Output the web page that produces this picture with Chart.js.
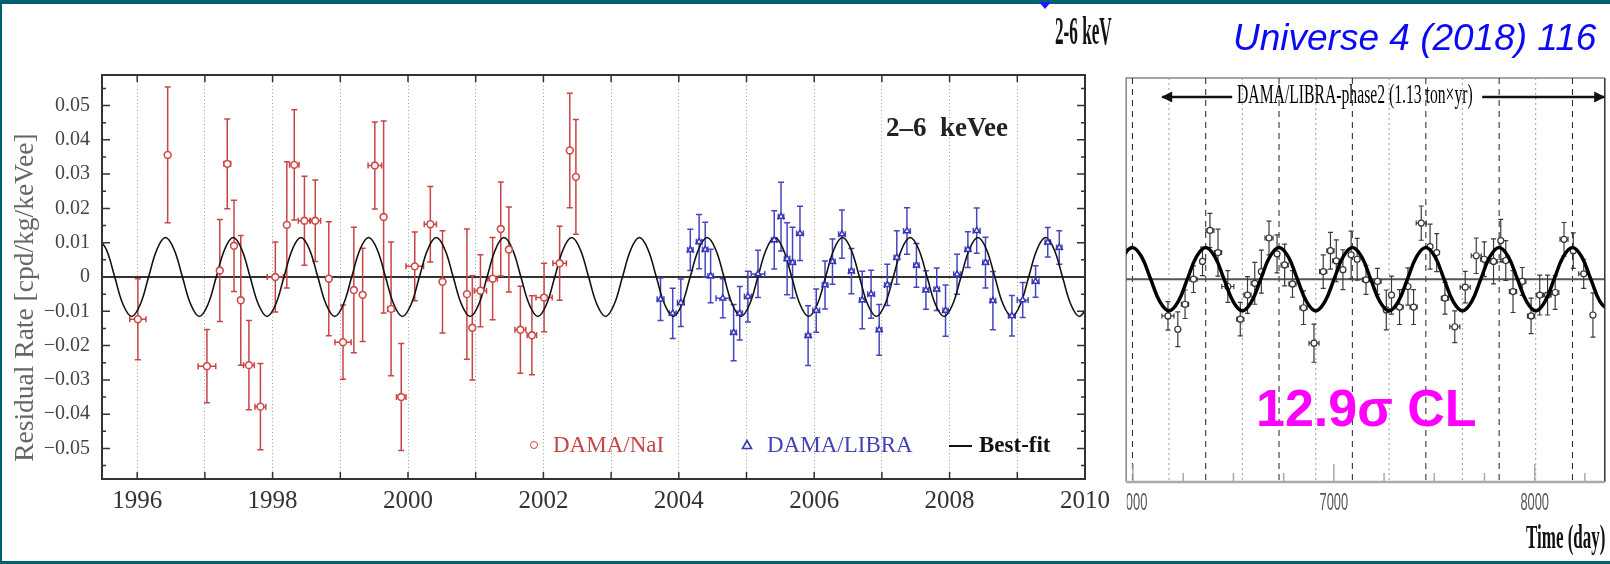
<!DOCTYPE html>
<html>
<head>
<meta charset="utf-8">
<script src="https://cdn.jsdelivr.net/npm/chart.js@4.4.1/dist/chart.umd.min.js"></script>
<style>
  body { margin: 0; background: #fff; }
  #page { position: relative; width: 1610px; height: 564px; overflow: hidden; background: #fff; }
  canvas { position: absolute; top: 0; }
  .bar { position: absolute; background: #006270; }
  .t { position: absolute; white-space: pre; line-height: 1; transform-origin: 0 0; }
  .serif { font-family: "Liberation Serif", serif; }
  .sans { font-family: "Liberation Sans", Arial, sans-serif; }
</style>
</head>
<body>
<div id="page">
  <canvas id="left" width="1120" height="564" style="left:0;width:1120px;height:564px"></canvas>
  <canvas id="right" width="489" height="564" style="left:1121px;width:489px;height:564px"></canvas>

  <div class="bar" style="left:0;top:0;width:1610px;height:4px"></div>
  <div class="bar" style="left:0;top:0;width:2px;height:564px"></div>
  <div class="bar" style="left:0;top:561px;width:1610px;height:3px"></div>
  <svg style="position:absolute;left:1038px;top:0" width="14" height="10"><polygon points="1,2 13,2 7,9" fill="#1a1aff"/></svg>

  <!-- left panel texts -->
  <div class="t serif" style="left:886px;top:114px;font-size:27px;font-weight:bold;color:#222">2–6  keVee</div>
  <div style="position:absolute;left:530px;top:441px;width:6px;height:6px;border:1.6px solid #c84545;border-radius:50%"></div>
  <div class="t serif" style="left:553px;top:433px;font-size:23px;color:#c84545">DAMA/NaI</div>
  <svg style="position:absolute;left:741px;top:439px" width="12" height="11"><polygon points="6,1.5 10.5,9.5 1.5,9.5" fill="none" stroke="#3535b5" stroke-width="1.6"/></svg>
  <div class="t serif" style="left:767px;top:433px;font-size:23px;color:#4343b8">DAMA/LIBRA</div>
  <div style="position:absolute;left:949px;top:445px;width:23px;height:2px;background:#111"></div>
  <div class="t serif" style="left:979px;top:433px;font-size:23px;font-weight:bold;color:#111">Best-fit</div>

  <!-- right panel texts -->
  <div class="t serif" style="left:1055px;top:11px;font-size:39px;font-weight:bold;color:#111;transform:scaleX(0.44)">2-6 keV</div>
  <div class="t sans" style="left:1233px;top:19px;font-size:37px;font-style:italic;color:#0a0af5">Universe 4 (2018) 116</div>
  <div class="t serif" style="left:1237px;top:80px;font-size:28px;color:#000;transform:scaleX(0.56)">DAMA/LIBRA-phase2 (1.13 ton×yr)</div>
  <div class="t sans" style="left:1256px;top:382px;font-size:52px;font-weight:bold;color:#ff00ff">12.9σ CL</div>
  <div class="t serif" style="left:1526px;top:520px;font-size:34px;font-weight:bold;color:#111;transform:scaleX(0.5)">Time (day)</div>
</div>

<script>
// ---------- left panel: DAMA/NaI + DAMA/LIBRA residuals (2-6 keVee) ----------
const naiYear = [1996.01, 1996.45, 1997.03, 1997.22, 1997.33, 1997.43, 1997.53, 1997.65, 1997.82, 1998.04,
                 1998.21, 1998.32, 1998.47, 1998.63, 1998.83, 1999.04, 1999.20, 1999.33, 1999.51, 1999.64,
                 1999.75, 1999.90, 2000.10, 2000.33, 2000.51, 2000.87, 2000.95, 2001.07, 2001.25, 2001.37,
                 2001.49, 2001.66, 2001.83, 2002.01, 2002.24, 2002.39, 2002.48];
const naiRate = [-0.0123, 0.0356, -0.0260, 0.0019, 0.0330, 0.0091, -0.0068, -0.0257, -0.0378, 0.0000,
                 0.0152, 0.0327, 0.0164, 0.0164, -0.0005, -0.0190, -0.0038, -0.0052, 0.0325, 0.0175,
                 -0.0093, -0.0350, 0.0031, 0.0154, -0.0014, -0.0050, -0.0148, -0.0040, -0.0005, 0.0140,
                 0.0080, -0.0154, -0.0170, -0.0060, 0.0040, 0.0369, 0.0292];
const naiErr = [0.0118, 0.0198, 0.0107, 0.0149, 0.0131, 0.0133, 0.0189, 0.0130, 0.0126, 0.0102,
                0.0184, 0.0161, 0.0130, 0.0119, 0.0166, 0.0108, 0.0183, 0.0136, 0.0127, 0.0280,
                0.0195, 0.0156, 0.0100, 0.0110, 0.0149, 0.0190, 0.0152, 0.0105, 0.0120, 0.0137,
                0.0124, 0.0127, 0.0115, 0.0100, 0.0108, 0.0167, 0.0167];
const naiYearErr = [0.12, 0, 0.13, 0, 0.05, 0, 0, 0.08, 0.08, 0.12,
                    0, 0.07, 0.09, 0.08, 0, 0.12, 0, 0, 0.10, 0,
                    0.05, 0.07, 0.13, 0.09, 0, 0, 0, 0.09, 0.07, 0,
                    0, 0.08, 0.07, 0.12, 0.10, 0, 0];

const libraYear = [2003.73, 2003.91, 2004.03, 2004.17, 2004.30, 2004.39, 2004.47, 2004.65, 2004.81, 2004.90,
                   2005.02, 2005.17, 2005.41, 2005.51, 2005.60, 2005.68, 2005.79, 2005.91,
                   2006.03, 2006.16, 2006.27, 2006.41, 2006.55, 2006.71, 2006.84, 2006.96,
                   2007.08, 2007.22, 2007.37, 2007.51, 2007.65, 2007.81, 2007.94,
                   2008.11, 2008.27, 2008.40, 2008.53, 2008.64, 2008.92,
                   2009.08, 2009.27, 2009.45, 2009.62];
const libraRate = [-0.0065, -0.0106, -0.0075, 0.0079, 0.0103, 0.0080, 0.0003, -0.0062, -0.0162, -0.0106,
                   -0.0057, 0.0009, 0.0108, 0.0176, 0.0053, 0.0042, 0.0127, -0.0171,
                   -0.0098, -0.0023, 0.0045, 0.0125, 0.0017, -0.0067, -0.0050, -0.0154,
                   -0.0023, 0.0057, 0.0134, 0.0034, -0.0038, -0.0036, -0.0098,
                   0.0008, 0.0080, 0.0135, 0.0042, -0.0069, -0.0113,
                   -0.0067, -0.0013, 0.0101, 0.0086];
const libraErr = [0.0062, 0.0073, 0.0069, 0.0060, 0.0079, 0.0080, 0.0078, 0.0057, 0.0082, 0.0078,
                  0.0074, 0.0069, 0.0085, 0.0100, 0.0105, 0.0103, 0.0079, 0.0087,
                  0.0063, 0.0070, 0.0066, 0.0070, 0.0066, 0.0084, 0.0070, 0.0074,
                  0.0060, 0.0078, 0.0068, 0.0064, 0.0056, 0.0062, 0.0075,
                  0.0058, 0.0052, 0.0066, 0.0074, 0.0085, 0.0059,
                  0.0051, 0.0046, 0.0043, 0.0049];
const libraYearErr = [0.05, 0.05, 0.05, 0.04, 0.04, 0.04, 0.04, 0.10, 0.04, 0.04,
                      0.05, 0.10, 0.04, 0.04, 0.04, 0.04, 0.05, 0.04,
                      0.05, 0.04, 0.04, 0.05, 0.04, 0.04, 0.05, 0.04,
                      0.04, 0.04, 0.05, 0.04, 0.04, 0.04, 0.04,
                      0.05, 0.04, 0.05, 0.04, 0.04, 0.05,
                      0.08, 0.05, 0.04, 0.04];

// best-fit modulation curve, every 1/8 year
const fitYear = [
  1995.418, 1995.543, 1995.668, 1995.793, 1995.918,
  1996.043, 1996.168, 1996.293, 1996.418, 1996.543, 1996.668, 1996.793, 1996.918,
  1997.043, 1997.168, 1997.293, 1997.418, 1997.543, 1997.668, 1997.793, 1997.918,
  1998.043, 1998.168, 1998.293, 1998.418, 1998.543, 1998.668, 1998.793, 1998.918,
  1999.043, 1999.168, 1999.293, 1999.418, 1999.543, 1999.668, 1999.793, 1999.918,
  2000.043, 2000.168, 2000.293, 2000.418, 2000.543, 2000.668, 2000.793, 2000.918,
  2001.043, 2001.168, 2001.293, 2001.418, 2001.543, 2001.668, 2001.793, 2001.918,
  2002.043, 2002.168, 2002.293, 2002.418, 2002.543, 2002.668, 2002.793, 2002.918,
  2003.043, 2003.168, 2003.293, 2003.418, 2003.543, 2003.668, 2003.793, 2003.918,
  2004.043, 2004.168, 2004.293, 2004.418, 2004.543, 2004.668, 2004.793, 2004.918,
  2005.043, 2005.168, 2005.293, 2005.418, 2005.543, 2005.668, 2005.793, 2005.918,
  2006.043, 2006.168, 2006.293, 2006.418, 2006.543, 2006.668, 2006.793, 2006.918,
  2007.043, 2007.168, 2007.293, 2007.418, 2007.543, 2007.668, 2007.793, 2007.918,
  2008.043, 2008.168, 2008.293, 2008.418, 2008.543, 2008.668, 2008.793, 2008.918,
  2009.043, 2009.168, 2009.293, 2009.418, 2009.543, 2009.668, 2009.793, 2009.918,
  2010.043
];
const fitRate = [
  0.0115, 0.0081, 0, -0.0081, -0.0115,
  -0.0081, 0, 0.0081, 0.0115, 0.0081, 0, -0.0081, -0.0115,
  -0.0081, 0, 0.0081, 0.0115, 0.0081, 0, -0.0081, -0.0115,
  -0.0081, 0, 0.0081, 0.0115, 0.0081, 0, -0.0081, -0.0115,
  -0.0081, 0, 0.0081, 0.0115, 0.0081, 0, -0.0081, -0.0115,
  -0.0081, 0, 0.0081, 0.0115, 0.0081, 0, -0.0081, -0.0115,
  -0.0081, 0, 0.0081, 0.0115, 0.0081, 0, -0.0081, -0.0115,
  -0.0081, 0, 0.0081, 0.0115, 0.0081, 0, -0.0081, -0.0115,
  -0.0081, 0, 0.0081, 0.0115, 0.0081, 0, -0.0081, -0.0115,
  -0.0081, 0, 0.0081, 0.0115, 0.0081, 0, -0.0081, -0.0115,
  -0.0081, 0, 0.0081, 0.0115, 0.0081, 0, -0.0081, -0.0115,
  -0.0081, 0, 0.0081, 0.0115, 0.0081, 0, -0.0081, -0.0115,
  -0.0081, 0, 0.0081, 0.0115, 0.0081, 0, -0.0081, -0.0115,
  -0.0081, 0, 0.0081, 0.0115, 0.0081, 0, -0.0081, -0.0115,
  -0.0081, 0, 0.0081, 0.0115, 0.0081, 0, -0.0081, -0.0115,
  -0.0081
];

// ---------- right panel: DAMA/LIBRA-phase2 residuals vs time (day) ----------
const phase2Day = [6174, 6223, 6259, 6301, 6346, 6383, 6423, 6472, 6534, 6570,
                   6606, 6639, 6677, 6717, 6755, 6794, 6849, 6901, 6947, 6983,
                   7012, 7045, 7086, 7116, 7160, 7217, 7261, 7287, 7327, 7369,
                   7397, 7435, 7479, 7512, 7553, 7602, 7654, 7709, 7749, 7795,
                   7831, 7856, 7892, 7938, 7982, 8025, 8064, 8102, 8146, 8192,
                   8244, 8290];
const phase2Rate = [-0.0116, -0.0158, -0.0079, 0.0000, 0.0056, 0.0154, 0.0084, -0.0023, -0.0126, -0.0050,
                    -0.0013, 0.0024, 0.0130, 0.0080, 0.0045, -0.0015, -0.0090, -0.0202, 0.0024, 0.0090,
                    0.0058, 0.0030, 0.0077, 0.0063, -0.0002, -0.0007, -0.0097, -0.0050, -0.0088, -0.0023,
                    -0.0088, 0.0177, 0.0103, 0.0084, -0.0060, -0.0150, -0.0025, 0.0074, 0.0063, 0.0056,
                    0.0122, 0.0059, -0.0039, -0.0007, -0.0116, -0.0050, -0.0050, -0.0042, 0.0126, 0.0090,
                    0.0017, -0.0113];
const phase2Err = [0.0045, 0.0055, 0.0045, 0.0042, 0.0045, 0.0054, 0.0074, 0.0050, 0.0053, 0.0058,
                   0.0066, 0.0068, 0.0053, 0.0060, 0.0066, 0.0042, 0.0053, 0.0060, 0.0053, 0.0058,
                   0.0066, 0.0063, 0.0075, 0.0066, 0.0046, 0.0041, 0.0063, 0.0060, 0.0055, 0.0059,
                   0.0055, 0.0054, 0.0071, 0.0060, 0.0050, 0.0050, 0.0050, 0.0056, 0.0055, 0.0071,
                   0.0067, 0.0063, 0.0066, 0.0044, 0.0056, 0.0063, 0.0063, 0.0053, 0.0053, 0.0056,
                   0.0046, 0.0070];
const phase2DayErr = [30, 0, 18, 18, 0, 20, 18, 30, 18, 18,
                      18, 0, 20, 0, 18, 18, 18, 25, 18, 18,
                      18, 0, 0, 0, 18, 18, 0, 0, 18, 0,
                      18, 25, 0, 0, 18, 25, 25, 25, 18, 18,
                      0, 18, 18, 18, 18, 18, 18, 18, 20, 0,
                      25, 0];

const fitDay = [
  5905.2, 5950.8,
  5996.5, 6042.2, 6087.8, 6133.5, 6179.1, 6224.8, 6270.4, 6316.1,
  6361.8, 6407.4, 6453.1, 6498.7, 6544.4, 6590.0, 6635.7, 6681.3,
  6727.0, 6772.7, 6818.3, 6864.0, 6909.6, 6955.3, 7000.9, 7046.6,
  7092.3, 7137.9, 7183.6, 7229.2, 7274.9, 7320.5, 7366.2, 7411.8,
  7457.5, 7503.2, 7548.8, 7594.5, 7640.1, 7685.8, 7731.4, 7777.1,
  7822.8, 7868.4, 7914.1, 7959.7, 8005.4, 8051.0, 8096.7, 8142.3,
  8188.0, 8233.7, 8279.3, 8325.0, 8370.6
];
const fitRateDay = [
  0, 0.0071,
  0.0100, 0.0071, 0, -0.0071, -0.0100, -0.0071, 0, 0.0071,
  0.0100, 0.0071, 0, -0.0071, -0.0100, -0.0071, 0, 0.0071,
  0.0100, 0.0071, 0, -0.0071, -0.0100, -0.0071, 0, 0.0071,
  0.0100, 0.0071, 0, -0.0071, -0.0100, -0.0071, 0, 0.0071,
  0.0100, 0.0071, 0, -0.0071, -0.0100, -0.0071, 0, 0.0071,
  0.0100, 0.0071, 0, -0.0071, -0.0100, -0.0071, 0, 0.0071,
  0.0100, 0.0071, 0, -0.0071, -0.0100
];

// expected maxima (dashed) and minima (dotted) of the modulation
const maxLineDays = [5997, 6362, 6727, 7092, 7458, 7823, 8188];
const minLineDays = [6179, 6544, 6910, 7275, 7640, 8005];
const dayTicksMajor = [6000, 7000, 8000];
const dayTicksMinor = [6250, 6500, 6750, 7250, 7500, 7750, 8250];

Chart.defaults.font.family = '"Liberation Serif", serif';

function pts(xs, ys) {
  return xs.map((x, i) => ({ x: x, y: ys[i] }));
}

function drawErrorBars(ctx, xs, ys, xv, yv, ey, ex, color, cap, lw) {
  ctx.save();
  ctx.strokeStyle = color;
  ctx.lineWidth = lw;
  ctx.beginPath();
  for (let i = 0; i < xv.length; i++) {
    const px = xs.getPixelForValue(xv[i]);
    const py = ys.getPixelForValue(yv[i]);
    const top = ys.getPixelForValue(yv[i] + ey[i]);
    const bot = ys.getPixelForValue(yv[i] - ey[i]);
    ctx.moveTo(px, top); ctx.lineTo(px, bot);
    ctx.moveTo(px - cap, top); ctx.lineTo(px + cap, top);
    ctx.moveTo(px - cap, bot); ctx.lineTo(px + cap, bot);
    if (ex[i] > 0) {
      const l = xs.getPixelForValue(xv[i] - ex[i]);
      const r = xs.getPixelForValue(xv[i] + ex[i]);
      ctx.moveTo(l, py); ctx.lineTo(r, py);
      ctx.moveTo(l, py - cap); ctx.lineTo(l, py + cap);
      ctx.moveTo(r, py - cap); ctx.lineTo(r, py + cap);
    }
  }
  ctx.stroke();
  ctx.restore();
}

const leftDecor = {
  id: 'leftDecor',
  beforeDatasetsDraw(chart) {
    const { ctx, chartArea: a, scales: { x, y } } = chart;
    ctx.save();
    ctx.strokeStyle = '#333';
    ctx.lineWidth = 2;
    const y0 = y.getPixelForValue(0);
    ctx.beginPath(); ctx.moveTo(a.left, y0); ctx.lineTo(a.right, y0); ctx.stroke();
    ctx.restore();
    drawErrorBars(ctx, x, y, naiYear, naiRate, naiErr, naiYearErr, '#c84545', 3, 1.5);
    drawErrorBars(ctx, x, y, libraYear, libraRate, libraErr, libraYearErr, '#4646c0', 3, 1.5);
  },
  afterDatasetsDraw(chart) {
    const { ctx, chartArea: a, scales: { x, y } } = chart;
    ctx.save();
    ctx.strokeStyle = '#333';
    ctx.lineWidth = 1.5;
    ctx.beginPath();
    x.ticks.forEach(t => {
      const px = x.getPixelForValue(t.value);
      ctx.moveTo(px, a.top); ctx.lineTo(px, a.top + 7);
      ctx.moveTo(px, a.bottom); ctx.lineTo(px, a.bottom - 7);
    });
    y.ticks.forEach(t => {
      [0, -0.005, 0.005].forEach((d, k) => {
        const v = t.value + d;
        if (k > 0 && (v < y.min || v > y.max)) return;
        const len = k === 0 ? 8 : 4;
        const py = y.getPixelForValue(v);
        ctx.moveTo(a.left, py); ctx.lineTo(a.left + len, py);
        ctx.moveTo(a.right, py); ctx.lineTo(a.right - len, py);
      });
    });
    ctx.stroke();
    ctx.lineWidth = 2;
    ctx.strokeRect(a.left, a.top, a.right - a.left, a.bottom - a.top);
    ctx.restore();
  }
};

new Chart(document.getElementById('left'), {
  type: 'scatter',
  data: {
    datasets: [
      {
        label: 'DAMA/NaI',
        data: pts(naiYear, naiRate),
        pointStyle: 'circle',
        pointRadius: 3.4,
        pointBorderWidth: 1.6,
        pointBorderColor: '#d04848',
        pointBackgroundColor: '#fff',
        order: 0
      },
      {
        label: 'DAMA/LIBRA',
        data: pts(libraYear, libraRate),
        pointStyle: 'triangle',
        pointRadius: 3.4,
        pointBorderWidth: 1.5,
        pointBorderColor: '#3535b5',
        pointBackgroundColor: '#fff',
        order: 0
      },
      {
        label: 'Best-fit',
        data: pts(fitYear, fitRate),
        showLine: true,
        tension: 0.4,
        borderColor: '#111',
        borderWidth: 1.6,
        pointRadius: 0,
        order: 1
      }
    ]
  },
  options: {
    responsive: false,
    animation: false,
    devicePixelRatio: 1,
    layout: { padding: { top: 75, right: 35, bottom: 0, left: 0 } },
    plugins: { legend: { display: false }, tooltip: { enabled: false } },
    scales: {
      x: {
        type: 'linear',
        min: 1995.48,
        max: 2010,
        afterFit(scale) { scale.height = 85; },
        ticks: {
          stepSize: 1,
          includeBounds: false,
          autoSkip: false,
          maxRotation: 0,
          padding: 7,
          color: '#333',
          font: { size: 25 },
          callback: v => (v % 2 === 0 ? String(v) : '')
        },
        grid: { color: '#a0a0a0', lineWidth: 1, drawTicks: false },
        border: { display: false, dash: [1, 2.5] }
      },
      y: {
        min: -0.0589,
        max: 0.0589,
        afterFit(scale) { scale.width = 102; },
        ticks: {
          stepSize: 0.01,
          includeBounds: false,
          padding: 12,
          color: '#444',
          font: { size: 20 },
          callback: v => {
            const r = Math.round(v * 100) / 100;
            if (r === 0) return '0';
            return r < 0 ? '\u2212' + (-r).toFixed(2) : r.toFixed(2);
          }
        },
        grid: { display: false, drawTicks: false },
        border: { display: false },
        title: {
          display: true,
          // trailing spaces nudge the rotated label down to where it sits in the figure
          text: 'Residual Rate [cpd/kg/keVee]      ',
          color: '#666',
          font: { size: 27.5 },
          padding: { top: 9, bottom: 0 }
        }
      }
    }
  },
  plugins: [leftDecor]
});

const rightDecor = {
  id: 'rightDecor',
  beforeDatasetsDraw(chart) {
    const { ctx, chartArea: a, scales: { x, y } } = chart;
    ctx.save();
    // frame (left/top light)
    ctx.strokeStyle = '#888';
    ctx.lineWidth = 1.5;
    ctx.beginPath();
    ctx.moveTo(a.left, a.bottom); ctx.lineTo(a.left, a.top); ctx.lineTo(a.right, a.top);
    ctx.stroke();
    // expected maxima / minima
    ctx.lineWidth = 1;
    ctx.strokeStyle = '#222';
    ctx.setLineDash([6, 5]);
    ctx.beginPath();
    maxLineDays.forEach(d => { const px = x.getPixelForValue(d); ctx.moveTo(px, a.top); ctx.lineTo(px, a.bottom); });
    ctx.stroke();
    ctx.strokeStyle = '#999';
    ctx.setLineDash([2, 3]);
    ctx.beginPath();
    minLineDays.forEach(d => { const px = x.getPixelForValue(d); ctx.moveTo(px, a.top); ctx.lineTo(px, a.bottom); });
    ctx.stroke();
    ctx.setLineDash([]);
    // zero line
    ctx.strokeStyle = '#555';
    ctx.lineWidth = 2;
    const y0 = y.getPixelForValue(0);
    ctx.beginPath(); ctx.moveTo(a.left, y0); ctx.lineTo(a.right, y0); ctx.stroke();
    ctx.restore();
    drawErrorBars(ctx, x, y, phase2Day, phase2Rate, phase2Err, phase2DayErr, '#3a3a3a', 2.5, 1.2);
  },
  afterDatasetsDraw(chart) {
    const { ctx, chartArea: a, scales: { x } } = chart;
    ctx.save();
    // right frame
    ctx.strokeStyle = '#333';
    ctx.lineWidth = 1.5;
    ctx.beginPath(); ctx.moveTo(a.right, a.top); ctx.lineTo(a.right, a.bottom); ctx.stroke();
    // bottom axis with ticks
    ctx.strokeStyle = '#aaa';
    ctx.lineWidth = 2.5;
    ctx.beginPath(); ctx.moveTo(a.left, a.bottom); ctx.lineTo(a.right, a.bottom); ctx.stroke();
    ctx.lineWidth = 1.5;
    ctx.beginPath();
    dayTicksMajor.forEach(d => { const px = x.getPixelForValue(d); ctx.moveTo(px, a.bottom); ctx.lineTo(px, a.bottom - 18); });
    dayTicksMinor.forEach(d => { const px = x.getPixelForValue(d); ctx.moveTo(px, a.bottom); ctx.lineTo(px, a.bottom - 9); });
    ctx.stroke();
    // condensed tick labels (the leftmost one is cut by the panel edge)
    ctx.save();
    ctx.beginPath();
    ctx.rect(a.left + 0.5, a.bottom, a.right - a.left, chart.height - a.bottom);
    ctx.clip();
    ctx.fillStyle = '#555';
    ctx.font = '23px "Liberation Sans", Arial, sans-serif';
    ctx.textAlign = 'center';
    ctx.textBaseline = 'alphabetic';
    dayTicksMajor.forEach(d => {
      const px = x.getPixelForValue(d);
      ctx.save();
      ctx.translate(px, 510);
      ctx.scale(0.56, 1);
      ctx.fillText(String(d), 0, 0);
      ctx.restore();
    });
    ctx.restore();
    // arrows around the phase2 label
    ctx.strokeStyle = '#111';
    ctx.fillStyle = '#111';
    ctx.lineWidth = 2.5;
    const ay = 97;
    const arrow = (x0, x1) => {
      ctx.beginPath(); ctx.moveTo(x0, ay); ctx.lineTo(x1, ay); ctx.stroke();
      const dir = Math.sign(x1 - x0);
      ctx.beginPath();
      ctx.moveTo(x1 + dir * 1, ay);
      ctx.lineTo(x1 - dir * 10, ay - 5.5);
      ctx.lineTo(x1 - dir * 10, ay + 5.5);
      ctx.closePath();
      ctx.fill();
    };
    arrow(a.left + 106, a.left + 36);
    arrow(a.left + 356, a.left + 478);
    ctx.restore();
  }
};

new Chart(document.getElementById('right'), {
  type: 'scatter',
  data: {
    datasets: [
      {
        label: 'DAMA/LIBRA-phase2',
        data: pts(phase2Day, phase2Rate),
        pointStyle: 'circle',
        pointRadius: 3,
        pointBorderWidth: 1.2,
        pointBorderColor: '#333',
        pointBackgroundColor: '#fff',
        order: 1
      },
      {
        label: 'Best-fit',
        data: pts(fitDay, fitRateDay),
        showLine: true,
        tension: 0.4,
        borderColor: '#000',
        borderWidth: 3.5,
        pointRadius: 0,
        order: 0
      }
    ]
  },
  options: {
    responsive: false,
    animation: false,
    devicePixelRatio: 1,
    layout: { padding: { top: 78, right: 2.6, bottom: 82, left: 1 } },
    plugins: { legend: { display: false }, tooltip: { enabled: false } },
    scales: {
      x: { type: 'linear', display: false, min: 5966, max: 8349 },
      y: { display: false, min: -0.064, max: 0.0635 }
    }
  },
  plugins: [rightDecor]
});
</script>
</body>
</html>
